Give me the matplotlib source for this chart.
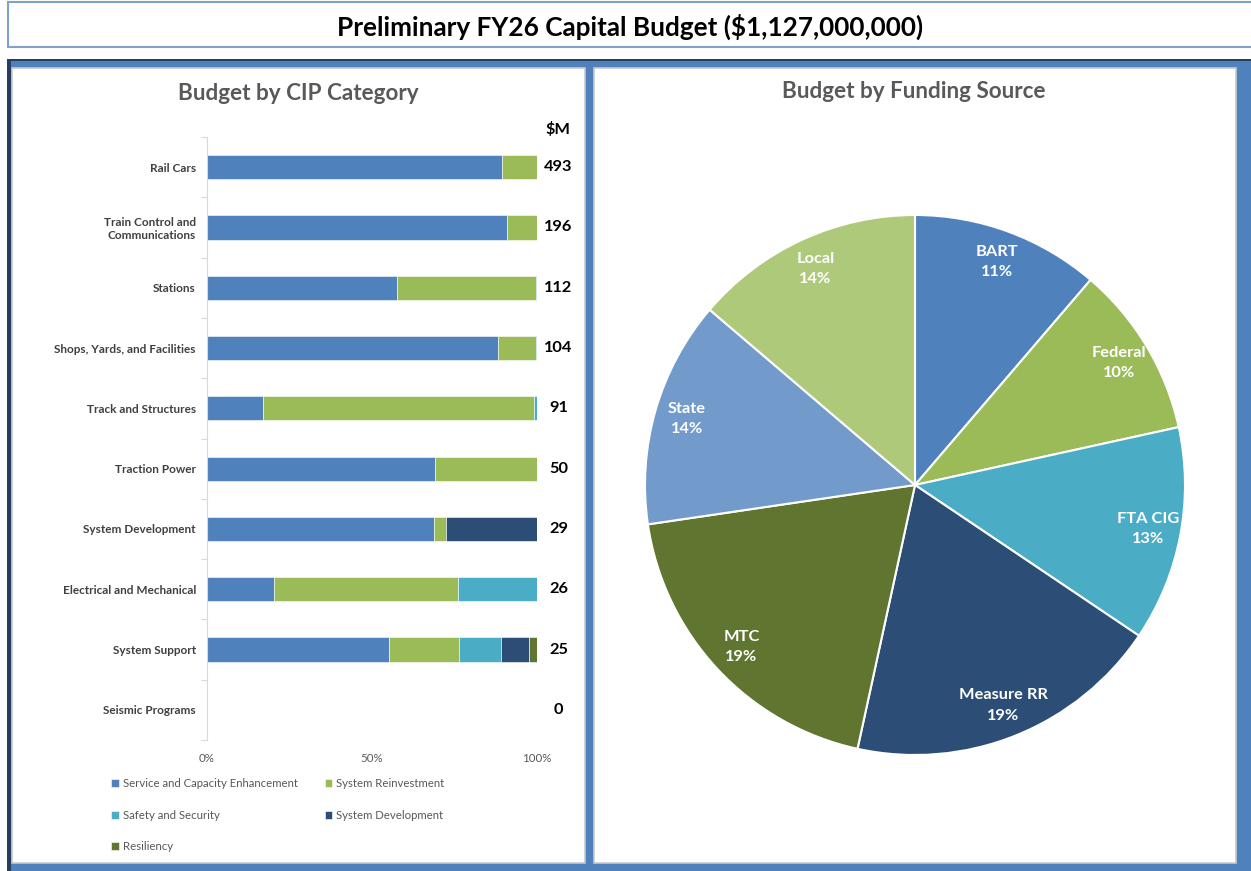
import matplotlib
matplotlib.use("Agg")
import matplotlib.pyplot as plt
from matplotlib.patches import Rectangle
from matplotlib.transforms import blended_transform_factory
import numpy as np

plt.rcParams['font.family'] = ['Lato', 'DejaVu Sans']

# ---------------- data ----------------
title = "Preliminary FY26 Capital Budget ($1,127,000,000)"
categories = ["Rail Cars", "Train Control and\nCommunications", "Stations",
              "Shops, Yards, and Facilities", "Track and Structures", "Traction Power",
              "System Development", "Electrical and Mechanical", "System Support",
              "Seismic Programs"]
totals_m = [493, 196, 112, 104, 91, 50, 29, 26, 25, 0]
series_names = ["Service and Capacity Enhancement", "System Reinvestment",
                "Safety and Security", "System Development", "Resiliency"]
# percentage share of each category's budget
service_capacity = [89.5, 91.0, 57.7, 88.3, 17.1, 69.2, 68.8, 20.4, 55.3, 0]
system_reinvest  = [10.5, 9.0, 41.9, 11.3, 82.0, 30.8, 3.5, 55.6, 21.2, 0]
safety_security  = [0, 0, 0.4, 0.4, 0.9, 0, 0, 24.0, 12.6, 0]
system_develop   = [0, 0, 0, 0, 0, 0, 27.7, 0, 8.4, 0]
resiliency       = [0, 0, 0, 0, 0, 0, 0, 0, 2.5, 0]
series_colors = ["#4F81BD", "#9BBB59", "#4BACC6", "#2C4D75", "#5F7530"]
x_ticks = [0, 50, 100]
x_tick_labels = ["0%", "50%", "100%"]

sources = ["BART", "Federal", "FTA CIG", "Measure RR", "MTC", "State", "Local"]
source_m = [127, 116, 145, 214, 217, 153, 155]
source_pct_labels = ["11%", "10%", "13%", "19%", "19%", "14%", "14%"]
source_colors = ["#4F81BD", "#9BBB59", "#4BACC6", "#2C4D75", "#5F7530", "#729ACA", "#AFC97A"]

# ---------------- figure ----------------
W, H = 1251, 871
fig = plt.figure(figsize=(W / 100, H / 100), dpi=100)
fig.patch.set_facecolor("white")

def px_rect(x0, y0, x1, y1, **kw):
    r = Rectangle((x0 / W, 1 - y1 / H), (x1 - x0) / W, (y1 - y0) / H,
                  transform=fig.transFigure, zorder=-5, **kw)
    fig.patches.append(r)
    return r

def px_axes(x0, y0, x1, y1):
    a = fig.add_axes([x0 / W, 1 - y1 / H, (x1 - x0) / W, (y1 - y0) / H])
    a.set_facecolor("none")
    return a

# title box
px_rect(8, 2, 1262, 47, facecolor="white", edgecolor="#7FA1CF", linewidth=1.5)
fig.text(630 / W, 1 - 27 / H, title, ha="center", va="center",
         fontsize=18.8, fontweight="bold", color="black")

# blue background
px_rect(7, 59, 1262, 880, facecolor="#4F81BD", edgecolor="none")
px_rect(7, 59, 1262, 61.5, facecolor="#243F60", edgecolor="none")
px_rect(7, 59, 10.5, 880, facecolor="#243F60", edgecolor="none")
# white panels
px_rect(12, 68, 585, 863, facecolor="white", edgecolor="#C9C9C9", linewidth=1.2)
px_rect(594, 68, 1236, 863, facecolor="white", edgecolor="#C9C9C9", linewidth=1.2)

fig.text(298 / W, 1 - 93 / H, "Budget by CIP Category", ha="center", va="center",
         fontsize=16.2, fontweight="bold", color="#595959")
fig.text(914 / W, 1 - 92 / H, "Budget by Funding Source", ha="center", va="center",
         fontsize=16.2, fontweight="bold", color="#595959")

# ---------------- bar chart ----------------
ax = px_axes(207, 137, 537, 740)
y = np.arange(len(categories))
series = [service_capacity, system_reinvest, safety_security, system_develop, resiliency]
left = np.zeros(len(categories))
for name, vals, col in zip(series_names, series, series_colors):
    vals = np.array(vals, dtype=float)
    ax.barh(y, vals, left=left, height=0.4, color=col, label=name,
            edgecolor="white", linewidth=0.4)
    left += vals
ax.set_xlim(0, 100)
ax.set_ylim(len(categories) - 0.5, -0.5)
ax.set_yticks(y)
ax.set_yticklabels(categories, fontsize=8.5, fontweight="bold", color="#404040")
ax.set_yticks(np.arange(len(categories) + 1) - 0.5, minor=True)
ax.tick_params(axis="y", which="major", length=0, pad=8)
ax.tick_params(axis="y", which="minor", length=4, color="#D9D9D9", width=0.8)
ax.set_xticks(x_ticks)
ax.set_xticklabels(x_tick_labels, fontsize=8.3, color="#595959")
ax.tick_params(axis="x", length=0, pad=9)
for s in ["top", "right", "bottom"]:
    ax.spines[s].set_visible(False)
ax.spines["left"].set_color("#D9D9D9")
ax.spines["left"].set_linewidth(0.8)

tr = blended_transform_factory(ax.transAxes, ax.transData)
for i, tot in enumerate(totals_m):
    ax.text(1.065, i, f"{tot}", transform=tr, ha="center", va="center",
            fontsize=11.8, fontweight="bold", color="black")
ax.text(1.065, -0.62, "$M", transform=tr, ha="center", va="center",
        fontsize=11.8, fontweight="bold", color="black")

handles, labels = ax.get_legend_handles_labels()
order = [0, 2, 4, 1, 3]  # row-wise reading order in a 2-column legend
leg = fig.legend([handles[k] for k in order], [labels[k] for k in order], loc="upper left",
                 bbox_to_anchor=(101 / W, 1 - 768 / H), ncol=2, frameon=False,
                 fontsize=8.2, handlelength=0.65, handleheight=0.65,
                 handletextpad=0.35, columnspacing=2.4, labelspacing=1.8)
for t in leg.get_texts():
    t.set_color("#595959")

# ---------------- pie chart ----------------
pax = px_axes(645, 215, 1185, 755)
labels_pie = [f"{s}\n{p}" for s, p in zip(sources, source_pct_labels)]
wedges, texts = pax.pie(source_m, colors=source_colors, startangle=90,
                        counterclock=False, labels=labels_pie, labeldistance=0.88,
                        wedgeprops=dict(edgecolor="white", linewidth=1.5),
                        textprops=dict(color="white", fontsize=11.8, fontweight="bold",
                                       linespacing=1.55))
for t in texts:
    t.set_ha("center")
    t.set_va("center")
pax.set_xlim(-1, 1)
pax.set_ylim(-1, 1)
pax.set_aspect("equal")

fig.savefig("out.png", dpi=100)
